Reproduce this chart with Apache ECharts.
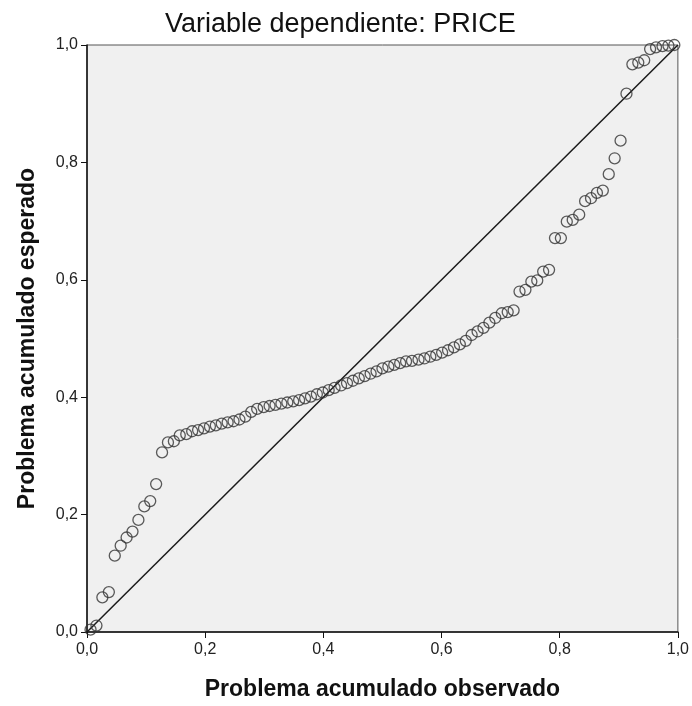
<!DOCTYPE html>
<html>
<head>
<meta charset="utf-8">
<script src="https://cdn.jsdelivr.net/npm/echarts@6/dist/echarts.min.js"></script>
<style>
html,body{margin:0;padding:0;background:#fff;}
#c{width:692px;height:706px;}
</style>
</head>
<body>
<div id="c"></div>
<script>
var titleText = 'Variable dependiente: PRICE';
var xName = 'Problema acumulado observado';
var yName = 'Problema acumulado esperado';
var tickValues = [0, 0.2, 0.4, 0.6, 0.8, 1.0];

var observed = [
0.006,0.016,0.026,0.037,0.047,0.057,0.067,0.077,0.087,0.097,
0.107,0.117,0.127,0.137,0.147,0.157,0.168,0.178,0.188,0.198,
0.208,0.218,0.228,0.238,0.248,0.258,0.268,0.278,0.288,0.299,
0.309,0.319,0.329,0.339,0.349,0.359,0.369,0.379,0.389,0.399,
0.409,0.419,0.430,0.440,0.450,0.460,0.470,0.480,0.490,0.500,
0.510,0.520,0.530,0.540,0.550,0.561,0.571,0.581,0.591,0.601,
0.611,0.621,0.631,0.641,0.651,0.661,0.671,0.681,0.691,0.702,
0.712,0.722,0.732,0.742,0.752,0.762,0.772,0.782,0.792,0.802,
0.812,0.822,0.833,0.843,0.853,0.863,0.873,0.883,0.893,0.903,
0.913,0.923,0.933,0.943,0.953,0.963,0.974,0.984,0.994
];
var expected = [
0.004,0.011,0.059,0.068,0.130,0.147,0.161,0.171,0.191,0.214,
0.223,0.252,0.306,0.323,0.325,0.335,0.337,0.342,0.344,0.347,
0.350,0.352,0.355,0.357,0.359,0.362,0.367,0.375,0.380,0.383,
0.385,0.387,0.389,0.391,0.393,0.395,0.398,0.401,0.405,0.408,
0.412,0.416,0.420,0.424,0.428,0.432,0.436,0.440,0.444,0.449,
0.452,0.455,0.458,0.461,0.462,0.464,0.466,0.469,0.472,0.476,
0.480,0.485,0.490,0.496,0.506,0.512,0.518,0.527,0.535,0.543,
0.545,0.548,0.580,0.583,0.597,0.599,0.614,0.617,0.671,0.671,
0.699,0.702,0.711,0.734,0.739,0.748,0.752,0.780,0.807,0.837,
0.917,0.967,0.970,0.974,0.993,0.996,0.998,0.999,1.000
];
var refLine = [[0, 0], [1, 1]];

var points = observed.map(function (x, i) { return [x, expected[i]]; });
function fmt(v) { return v.toFixed(1).replace('.', ','); }

var chart = echarts.init(document.getElementById('c'), null, {renderer: 'canvas'});
var font = 'Liberation Sans, Arial, sans-serif';
chart.setOption({
  animation: false,
  backgroundColor: '#ffffff',
  title: {
    text: titleText,
    left: 160,
    top: 6,
    textStyle: {fontFamily: font, fontSize: 27, fontWeight: 'normal', color: '#111'}
  },
  grid: {
    left: 87, right: 14, top: 45, bottom: 73,
    show: true, backgroundColor: '#F0F0F0', borderColor: '#555', borderWidth: 1
  },
  xAxis: {
    type: 'value', min: 0, max: 1, interval: 0.2,
    name: xName, nameLocation: 'middle', nameGap: 46,
    nameTextStyle: {fontFamily: font, fontSize: 23, fontWeight: 'bold', color: '#111'},
    axisLine: {show: true, onZero: false, lineStyle: {color: '#111', width: 1.5}},
    axisTick: {show: true, inside: false, length: 6, lineStyle: {color: '#111', width: 1}},
    axisLabel: {margin: 10, fontFamily: font, fontSize: 16, color: '#222', formatter: fmt},
    splitLine: {show: false}
  },
  yAxis: {
    type: 'value', min: 0, max: 1, interval: 0.2,
    name: yName, nameLocation: 'middle', nameGap: 48,
    nameTextStyle: {fontFamily: font, fontSize: 23, fontWeight: 'bold', color: '#111'},
    axisLine: {show: true, onZero: false, lineStyle: {color: '#111', width: 1.5}},
    axisTick: {show: true, inside: false, length: 6, lineStyle: {color: '#111', width: 1}},
    axisLabel: {margin: 9, fontFamily: font, fontSize: 16, color: '#222', formatter: fmt},
    splitLine: {show: false}
  },
  series: [
    {
      type: 'line', data: refLine, symbol: 'none', silent: true,
      lineStyle: {color: '#1a1a1a', width: 1.5}, z: 2
    },
    {
      type: 'scatter', data: points, symbol: 'circle', symbolSize: 11,
      itemStyle: {color: 'rgba(0,0,0,0)', borderColor: '#333', borderWidth: 1.3}, z: 3
    }
  ]
});
</script>
</body>
</html>
